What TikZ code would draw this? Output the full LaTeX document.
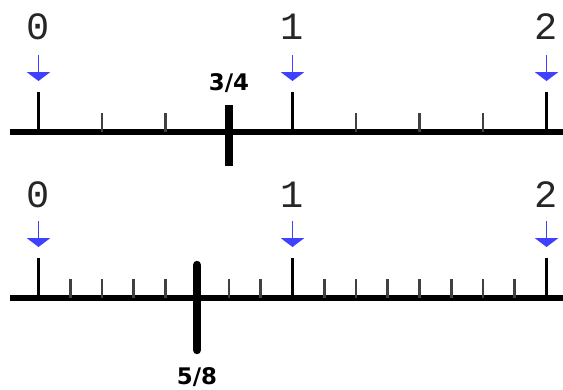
\documentclass[tikz,border=0pt]{standalone}
\usepackage{fontspec}
\newfontfamily\digitfont{Liberation Mono}
\newfontfamily\fracfont{DejaVu Sans}
\usetikzlibrary{arrows.meta}

\begin{document}
\begin{tikzpicture}[x=0.02cm, y=-0.02cm,
        axis/.style={line width=3.3pt},
        major/.style={line width=2.2pt},
        minor/.style={line width=1.6pt, black!75},
        fracmark/.style={line width=4.8pt},
        pointer/.style={-{Triangle[width=13pt, length=5pt]}, line width=1.1pt, blue!75},
        numlabel/.style={font=\digitfont\fontsize{22}{22}\selectfont, text=black!85, inner sep=0pt},
        fraclabel/.style={font=\fracfont\bfseries\fontsize{13}{13}\selectfont, inner sep=0pt}
    ]
    \useasboundingbox (0,0) rectangle (563,389);

    % ---- Linha 1: quartos ----
    \draw[axis] (10,132) -- (563,132);
    \foreach \k in {1,2,3,5,6,7}
        \draw[minor] ({38.5+63.5*\k},132) -- ({38.5+63.5*\k},113);
    \foreach \i in {0,1,2} {
        \draw[major] ({38.5+254*\i},133) -- ({38.5+254*\i},92);
        \node[numlabel] (topnum\i) at ({38.5+254*\i},27) {\i};
        \coordinate (toparrowstart\i) at ({38.5+254*\i},55);
        \coordinate (toparrowend\i) at ({38.5+254*\i},81);
        \draw[pointer] (toparrowstart\i) -- (toparrowend\i);
    }
    % marca 3/4
    \draw[fracmark] (229,105) -- (229,166);
    \node[fraclabel] (threequarters) at (229,83) {3/4};

    % ---- Linha 2: oitavos ----
    \draw[axis] (10,298) -- (563,298);
    \foreach \k in {1,...,7,9,10,...,15}
        \draw[minor] ({38.5+31.75*\k},298) -- ({38.5+31.75*\k},279);
    \foreach \i in {0,1,2} {
        \draw[major] ({38.5+254*\i},299) -- ({38.5+254*\i},258);
        \node[numlabel] (botnum\i) at ({38.5+254*\i},195) {\i};
        \coordinate (botarrowstart\i) at ({38.5+254*\i},221);
        \coordinate (botarrowend\i) at ({38.5+254*\i},247);
        \draw[pointer] (botarrowstart\i) -- (botarrowend\i);
    }
    % marca 5/8
    \draw[fracmark, line cap=round] (197,265) -- (197,350);
    \node[fraclabel] (fiveeighths) at (197,377) {5/8};
\end{tikzpicture}
\end{document}
